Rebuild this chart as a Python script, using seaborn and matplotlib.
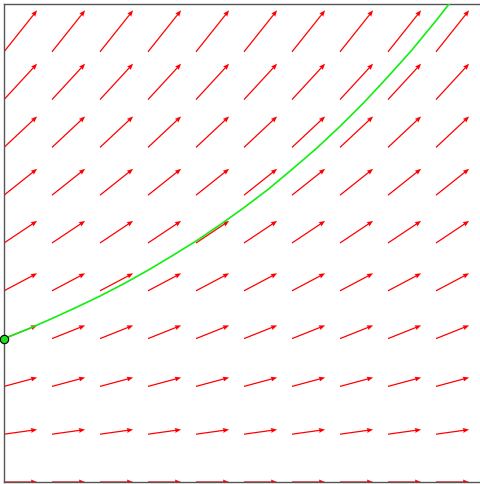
import seaborn as sns
import matplotlib.pyplot as plt
import numpy as np
import pandas as pd

# slope field grid (data units)
grid_x = [0, 1, 2, 3, 4, 5, 6, 7, 8, 9]
grid_y = [0, 1, 2, 3, 4, 5, 6, 7, 8, 9]
# slope of the arrows in each row
row_slope = [0.0, 0.14, 0.27, 0.40, 0.53, 0.67, 0.80, 0.94, 1.09, 1.26]

# solution curve through the start point
curve_x = [0, 0.5, 1, 1.5, 2, 2.5, 3, 3.5, 4, 4.5, 5, 5.5, 6, 6.5, 7, 7.5, 8, 8.5, 9, 9.35]
curve_y = [3.0, 3.2, 3.42, 3.65, 3.89, 4.15, 4.43, 4.73, 5.04, 5.38, 5.74, 6.12,
           6.54, 6.97, 7.44, 7.94, 8.48, 9.04, 9.65, 10.1]
start_x = [0]
start_y = [3]

sns.set_style('white')
fig = plt.figure(figsize=(4.8, 4.85), dpi=100)
ax = fig.add_axes([4/480, 2/485, 480/480, 478/485])

X, Y = np.meshgrid(grid_x, grid_y)
U = np.ones_like(X, dtype=float)
V = np.array(row_slope)[:, None] * np.ones(len(grid_x))[None, :]
ax.quiver(X, Y, U, V, color='red', angles='xy', scale_units='xy', scale=1.45,
          width=0.0026, headwidth=4, headlength=5, headaxislength=4.5, zorder=2)

df = pd.DataFrame({'x': curve_x, 'y': curve_y})
sns.lineplot(data=df, x='x', y='y', sort=False, color='#11ee11', lw=1.2, ax=ax, zorder=3)
ax.scatter(start_x, start_y, s=36, color='#22dd22', edgecolor='black', linewidth=0.8,
           zorder=5, clip_on=False)

ax.set_xlim(0, 10)
ax.set_ylim(0, 10)
ax.set_xticks([])
ax.set_yticks([])
ax.set_xlabel('')
ax.set_ylabel('')
for s in ax.spines.values():
    s.set_color('#555555')
    s.set_linewidth(1.0)

plt.savefig('out.png', dpi=100)
